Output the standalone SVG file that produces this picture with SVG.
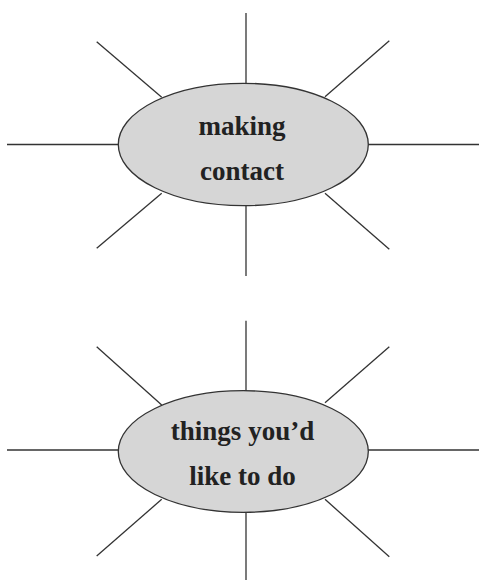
<svg xmlns="http://www.w3.org/2000/svg" width="479" height="581" viewBox="0 0 479 581">
<style>
.spoke{stroke:#333;stroke-width:1.3;fill:none}
.bubble{fill:#d6d6d6;stroke:#333;stroke-width:1.3}
.lbl{font-family:"Liberation Serif","Times New Roman",serif;font-weight:bold;font-size:27px;fill:#222;text-anchor:middle}
</style>
<rect width="479" height="581" fill="#fff"/>
<g id="connectors">
<line class="spoke" x1="246" y1="13" x2="246" y2="84"/>
<line class="spoke" x1="246" y1="205" x2="246" y2="276"/>
<line class="spoke" x1="7" y1="144.5" x2="119" y2="144.5"/>
<line class="spoke" x1="368" y1="144.5" x2="479" y2="144.5"/>
<line class="spoke" x1="96.7" y1="41.7" x2="161.7" y2="97.3"/>
<line class="spoke" x1="389.3" y1="40.7" x2="325" y2="96.7"/>
<line class="spoke" x1="161.7" y1="193.3" x2="96.7" y2="248.3"/>
<line class="spoke" x1="325" y1="193.3" x2="389.3" y2="249.3"/>
<line class="spoke" x1="246" y1="320.7" x2="246" y2="391"/>
<line class="spoke" x1="246" y1="512" x2="246" y2="580"/>
<line class="spoke" x1="7" y1="450" x2="119" y2="450"/>
<line class="spoke" x1="368" y1="450" x2="479" y2="450"/>
<line class="spoke" x1="96.7" y1="346.7" x2="161.7" y2="405"/>
<line class="spoke" x1="389.3" y1="346.7" x2="325" y2="402.7"/>
<line class="spoke" x1="161.7" y1="499.3" x2="96.7" y2="556"/>
<line class="spoke" x1="325" y1="499.3" x2="389.3" y2="556.7"/>
</g>
<g id="node-making-contact">
<ellipse class="bubble" cx="243.3" cy="144.5" rx="125" ry="61.2"/>
<text class="lbl" x="242" y="135">making</text>
<text class="lbl" x="242" y="180">contact</text>
</g>
<g id="node-things">
<ellipse class="bubble" cx="243.3" cy="451.5" rx="125" ry="60.8"/>
<text class="lbl" x="242.5" y="440">things you’d</text>
<text class="lbl" x="242.5" y="485">like to do</text>
</g>
</svg>
